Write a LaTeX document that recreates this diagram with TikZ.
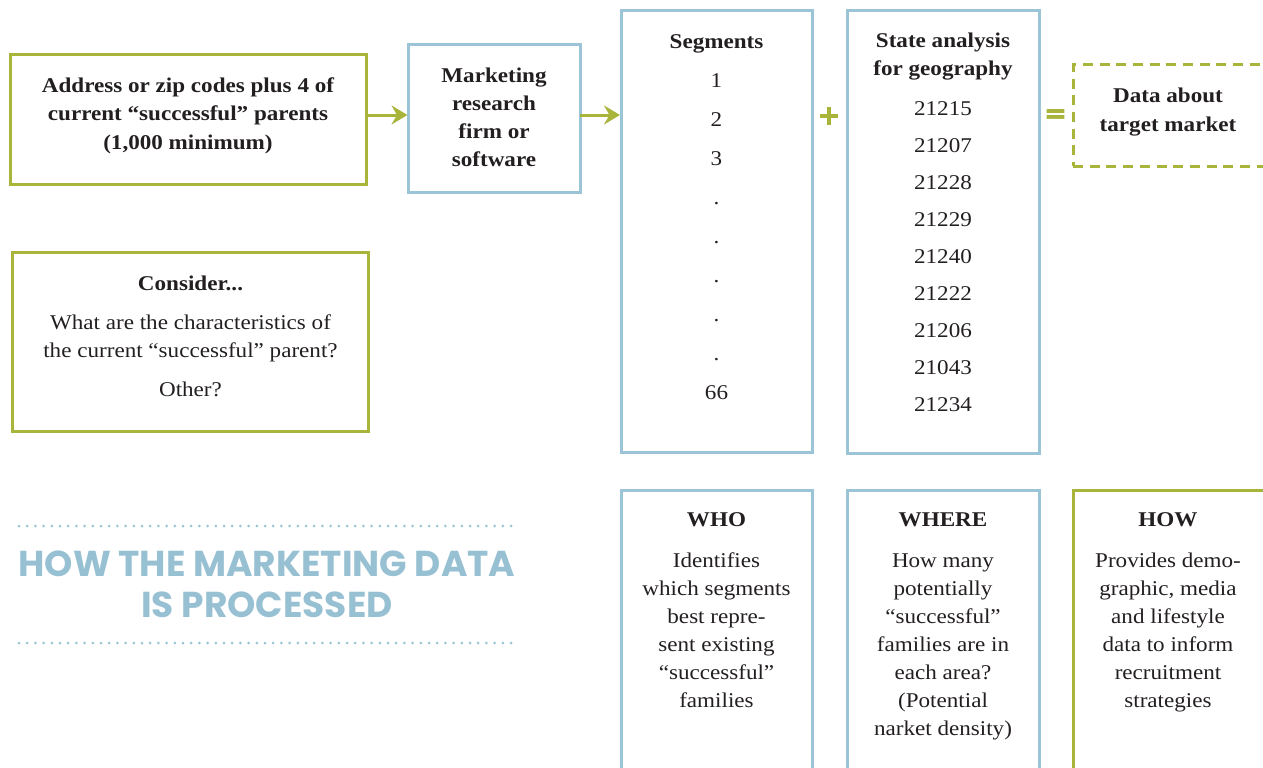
\documentclass[tikz,border=0pt]{standalone}
\usepackage{fontspec}
\setmainfont{Liberation Serif}[FakeStretch=1.1]
\newfontfamily\titlefont{Poppins}
\newfontfamily\signfont{DejaVu Sans}[FakeBold=2.5]
\usetikzlibrary{arrows.meta}
\definecolor{grn}{HTML}{A9B43A}
\definecolor{blu}{HTML}{9BC4D6}
\definecolor{ttl}{HTML}{97C0D3}
\definecolor{ink}{HTML}{231F20}
\tikzset{
  boxbase/.style={rectangle, line width=3bp, inner sep=0pt, outer sep=0pt, anchor=north west},
  gbox/.style={boxbase, draw=grn},
  bbox/.style={boxbase, draw=blu},
  dbox/.style={boxbase, draw=grn, dash pattern=on 10bp off 6.7bp},
  txt/.style={text=ink, align=center, anchor=base, inner sep=0pt, font=\fontsize{21bp}{28bp}\selectfont},
  hd/.style={txt, font=\bfseries\fontsize{21bp}{28bp}\selectfont},
  sign/.style={text=grn, inner sep=0pt, font=\signfont\bfseries\fontsize{27bp}{27bp}\selectfont},
  arr/.style={draw=grn, line width=3bp, -{Stealth[length=16bp,width=19bp,inset=5.5bp]}, shorten >=1bp},
  dotline/.style={draw=blu, line width=3bp, line cap=round, dash pattern=on 0bp off 8.2bp},
  ttlstyle/.style={text=ttl, align=center, anchor=base, inner sep=0pt, font=\titlefont\bfseries\fontsize{36bp}{41.3bp}\selectfont}
}
\begin{document}
\begin{tikzpicture}[x=1bp,y=-1bp]
\useasboundingbox (0,0) rectangle (1263,768);
\clip (0,0) rectangle (1263,768);
% top row boxes
\node[gbox, minimum width=356bp, minimum height=129.5bp] (A) at (10,54.5) {};
\node[bbox, minimum width=171.5bp, minimum height=148bp] (B) at (408.5,44.5) {};
\node[bbox, minimum width=191.5bp, minimum height=441.5bp] (seg) at (621,11) {};
\node[bbox, minimum width=192bp, minimum height=442.5bp] (state) at (847,10.5) {};
\node[dbox, minimum width=260bp, minimum height=101bp] (data) at (1073,65) {};
% signs
\node[sign] (plus) at (829,116) {+};
\node[sign] (eq) at (1055.5,116) {=};
% arrows
\draw[arr] (A.east |- 0,115) -- (B.west |- 0,115);
\draw[arr] (B.east |- 0,115) -- (seg.west |- 0,115);
% texts top (anchor = baseline of last line)
\node[hd] (Atxt) at (188,149) {Address or zip codes plus 4 of\\current “successful” parents\\(1,000 minimum)};
\node[hd] (Btxt) at (494,166.7) {Marketing\\research\\firm or\\software};
\node[hd] (segh) at (716.5,48.3) {Segments};
\node[txt, font=\fontsize{21bp}{39bp}\selectfont] (segl) at (716.5,399) {1\\2\\3\\.\\.\\.\\.\\.\\66};
\node[hd] (stateh) at (943,76) {State analysis\\for geography};
\node[txt, font=\fontsize{21bp}{37.1bp}\selectfont] (statel) at (943,411.8) {21215\\21207\\21228\\21229\\21240\\21222\\21206\\21043\\21234};
\node[hd] (datatxt) at (1168,131) {Data about\\target market};
% consider box
\node[gbox, minimum width=355.5bp, minimum height=179bp] (C) at (12.5,252.5) {};
\node[hd] (Ch) at (190.5,290.7) {Consider...};
\node[txt] (Cb) at (190.5,357) {What are the characteristics of\\the current “successful” parent?};
\node[txt] (Co) at (190.5,396.7) {Other?};
% title
\coordinate (d1a) at (19,526);
\coordinate (d1b) at (519,526);
\coordinate (d2a) at (19,643);
\coordinate (d2b) at (519,643);
\draw[dotline] (d1a) -- (d1b);
\draw[dotline] (d2a) -- (d2b);
\node[ttlstyle] (title) at (267,617.3) {HOW THE MARKETING DATA\\IS PROCESSED};
% bottom boxes
\node[bbox, minimum width=191.5bp, minimum height=300bp] (who) at (621,490) {};
\node[bbox, minimum width=192bp, minimum height=300bp] (where) at (847,490) {};
\node[gbox, minimum width=260bp, minimum height=300bp] (how) at (1073.5,490.5) {};
\node[hd] (whoh) at (716.5,526) {WHO};
\node[txt] (whob) at (716.5,707) {Identifies\\which segments\\best repre-\\sent existing\\“successful”\\families};
\node[hd] (whereh) at (943,526) {WHERE};
\node[txt] (whereb) at (943,735) {How many\\potentially\\“successful”\\families are in\\each area?\\(Potential\\narket density)};
\node[hd] (howh) at (1168,526) {HOW};
\node[txt] (howb) at (1168,707) {Provides demo-\\graphic, media\\and lifestyle\\data to inform\\recruitment\\strategies};
\end{tikzpicture}
\end{document}
